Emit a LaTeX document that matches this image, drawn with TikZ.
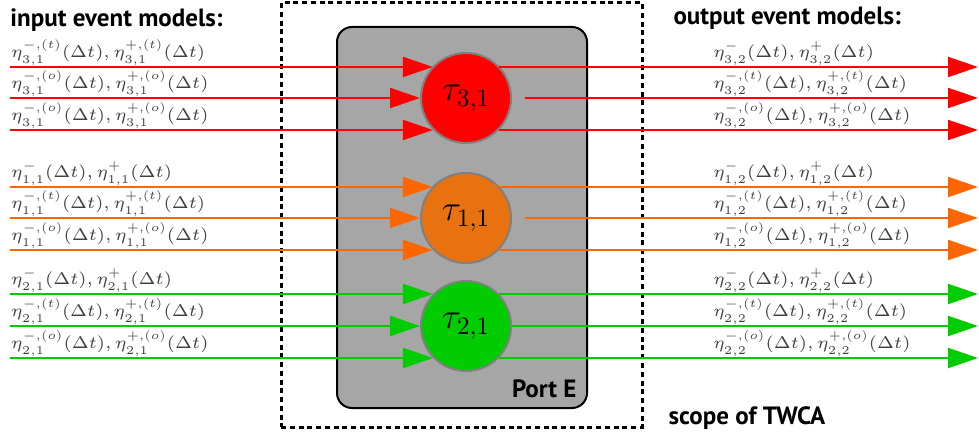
\RequirePackage{fix-cm}
\documentclass[tikz,border=0pt]{standalone}
\usepackage{fontspec}
\newfontfamily\labelfont{PT Sans}
\usetikzlibrary{arrows.meta,positioning}
\definecolor{taured}{RGB}{255,0,0}
\definecolor{tauorange}{RGB}{232,114,16}
\definecolor{lineorange}{RGB}{255,102,0}
\definecolor{taugreen}{RGB}{0,204,0}
\definecolor{portgray}{RGB}{166,166,166}
\begin{document}
\begin{tikzpicture}[x=0.4pt,y=-0.4pt,
		task/.style={circle,draw=gray,line width=0.8pt,minimum size=36pt,inner sep=0pt,font=\Large},
		flow/.style={line width=0.8pt,-{Triangle[length=12pt,width=8pt]}},
		eta/.style={inner sep=0.3pt,text=black!75,font=\fontsize{6.8}{8}\selectfont},
		caption/.style={inner sep=0pt,font=\labelfont\bfseries\fontsize{10}{12}\selectfont}]
		\useasboundingbox (0,0) rectangle (979,438);
		\node[draw,line width=1.2pt,dash pattern=on 2pt off 1.5pt,
			minimum width=144.4pt,minimum height=169.6pt] (twca) at (461.5,215) {};
		\node[draw,fill=portgray,line width=0.8pt,rounded corners=6pt,
			minimum width=100pt,minimum height=152.4pt] (port) at (462,217.5) {};
		\node[caption,anchor=base east] (portlabel) at (577,398) {Port E};
		\node[caption,anchor=base west] (scope) at (668,425) {scope of TWCA};
		\node[caption,anchor=base west] (inputs) at (10,27) {input event models:};
		\node[caption,anchor=base west] (outputs) at (673,25) {output event models:};
		% tasks
		\node[task,fill=taured] (tau31) at (466,98) {$\tau_{3,1}$};
		\node[task,fill=tauorange] (tau11) at (466,218) {$\tau_{1,1}$};
		\node[task,fill=taugreen] (tau21) at (466,326) {$\tau_{2,1}$};
		% event streams in and out
		\foreach \t/\c/\ya/\yb/\yc/\gap in {tau31/taured/67/98/130/5pt,
			tau11/lineorange/187/218/250/5pt,tau21/taugreen/294/326/358/0pt}{
			\coordinate (\t-a) at (10,\ya);
			\coordinate (\t-b) at (10,\yb);
			\coordinate (\t-c) at (10,\yc);
			\coordinate (\t-A) at (978,\ya);
			\coordinate (\t-B) at (978,\yb);
			\coordinate (\t-C) at (978,\yc);
			\draw[flow,\c] (\t-a) -- (\t-a -| \t.136);
			\draw[flow,\c] (\t-b) -- (\t.west);
			\draw[flow,\c] (\t-c) -- (\t-c -| \t.224);
			\draw[flow,\c] (\t-A -| \t.44) -- (\t-A);
			\draw[flow,\c] ([xshift=\gap]\t.east) -- (\t-B);
			\draw[flow,\c] (\t-C -| \t.316) -- (\t-C);
		}
		% input event models
		\node[eta,above right=0pt of tau31-a] (in31a) {$\eta_{3,1}^{-,(t)}(\Delta t),\eta_{3,1}^{+,(t)}(\Delta t)$};
		\node[eta,above right=0pt of tau31-b] (in31b) {$\eta_{3,1}^{-,(o)}(\Delta t),\eta_{3,1}^{+,(o)}(\Delta t)$};
		\node[eta,above right=0pt of tau31-c] (in31c) {$\eta_{3,1}^{-,(o)}(\Delta t),\eta_{3,1}^{+,(o)}(\Delta t)$};
		\node[eta,above right=0pt of tau11-a] (in11a) {$\eta_{1,1}^{-}(\Delta t),\eta_{1,1}^{+}(\Delta t)$};
		\node[eta,above right=0pt of tau11-b] (in11b) {$\eta_{1,1}^{-,(t)}(\Delta t),\eta_{1,1}^{+,(t)}(\Delta t)$};
		\node[eta,above right=0pt of tau11-c] (in11c) {$\eta_{1,1}^{-,(o)}(\Delta t),\eta_{1,1}^{+,(o)}(\Delta t)$};
		\node[eta,above right=0pt of tau21-a] (in21a) {$\eta_{2,1}^{-}(\Delta t),\eta_{2,1}^{+}(\Delta t)$};
		\node[eta,above right=0pt of tau21-b] (in21b) {$\eta_{2,1}^{-,(t)}(\Delta t),\eta_{2,1}^{+,(t)}(\Delta t)$};
		\node[eta,above right=0pt of tau21-c] (in21c) {$\eta_{2,1}^{-,(o)}(\Delta t),\eta_{2,1}^{+,(o)}(\Delta t)$};
		% output event models
		\node[eta,anchor=south west] (out32a) at (712,67) {$\eta_{3,2}^{-}(\Delta t),\eta_{3,2}^{+}(\Delta t)$};
		\node[eta,anchor=south west] (out32b) at (712,98) {$\eta_{3,2}^{-,(t)}(\Delta t),\eta_{3,2}^{+,(t)}(\Delta t)$};
		\node[eta,anchor=south west] (out32c) at (712,130) {$\eta_{3,2}^{-,(o)}(\Delta t),\eta_{3,2}^{+,(o)}(\Delta t)$};
		\node[eta,anchor=south west] (out12a) at (712,187) {$\eta_{1,2}^{-}(\Delta t),\eta_{1,2}^{+}(\Delta t)$};
		\node[eta,anchor=south west] (out12b) at (712,218) {$\eta_{1,2}^{-,(t)}(\Delta t),\eta_{1,2}^{+,(t)}(\Delta t)$};
		\node[eta,anchor=south west] (out12c) at (712,250) {$\eta_{1,2}^{-,(o)}(\Delta t),\eta_{1,2}^{+,(o)}(\Delta t)$};
		\node[eta,anchor=south west] (out22a) at (712,294) {$\eta_{2,2}^{-}(\Delta t),\eta_{2,2}^{+}(\Delta t)$};
		\node[eta,anchor=south west] (out22b) at (712,326) {$\eta_{2,2}^{-,(t)}(\Delta t),\eta_{2,2}^{+,(t)}(\Delta t)$};
		\node[eta,anchor=south west] (out22c) at (712,358) {$\eta_{2,2}^{-,(o)}(\Delta t),\eta_{2,2}^{+,(o)}(\Delta t)$};
	\end{tikzpicture}
\end{document}
